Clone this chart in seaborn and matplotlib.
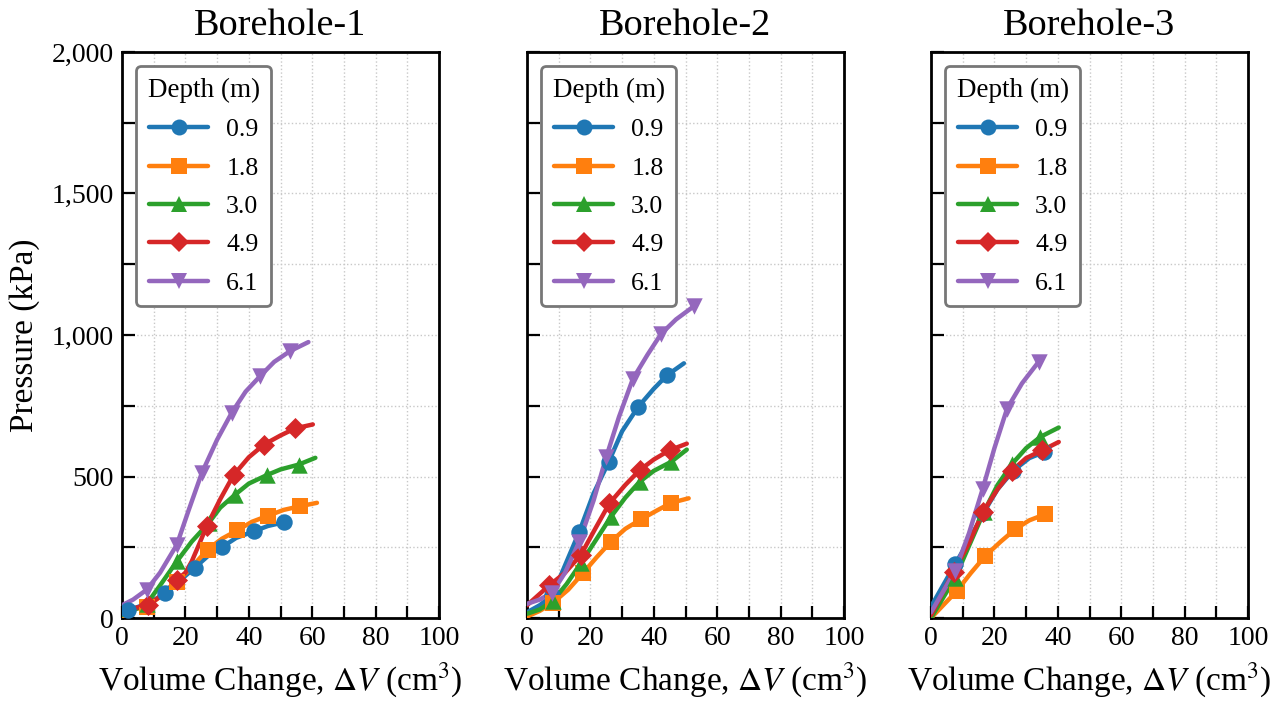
import numpy as np
import pandas as pd
import matplotlib
matplotlib.use("Agg")
import matplotlib.pyplot as plt
from matplotlib.lines import Line2D
from matplotlib.ticker import MultipleLocator, FuncFormatter
import seaborn as sns

# ---------------- data ----------------
boreholes = ["Borehole-1", "Borehole-2", "Borehole-3"]
depths = ["0.9", "1.8", "3.0", "4.9", "6.1"]
colors = ["#1f77b4", "#ff7f0e", "#2ca02c", "#d62728", "#9467bd"]
markers = ["o", "s", "^", "D", "v"]

# Borehole-1
bh1_x = {
    "0.9": [0, 2, 8, 13.6, 18, 23, 27, 31.5, 36, 41.5, 46, 51],
    "1.8": [0, 3.5, 7.8, 12, 17.3, 22, 27, 31.5, 36.4, 41, 46.2, 51, 56.2, 61.5],
    "3.0": [0, 4, 7.8, 12, 17.3, 22, 27.3, 31, 35.7, 40, 45.7, 50, 55.7, 61],
    "4.9": [0, 4, 8.3, 12.5, 17.5, 20, 22, 24.5, 26.7, 31, 35.2, 40, 44.8, 50, 54.6, 60.2],
    "6.1": [0, 3.5, 7.8, 12, 17.3, 21, 25.2, 30, 34.6, 39, 43.6, 48, 53, 58.8],
}
bh1_y = {
    "0.9": [0, 28, 50, 87, 130, 178, 218, 250, 283, 306, 325, 338],
    "1.8": [5, 30, 40, 75, 127, 180, 242, 280, 310, 340, 362, 382, 395, 407],
    "3.0": [10, 30, 50, 115, 200, 270, 335, 390, 436, 475, 505, 525, 542, 566],
    "4.9": [20, 35, 45, 80, 136, 160, 200, 265, 324, 420, 505, 568, 613, 645, 670, 684],
    "6.1": [45, 65, 100, 160, 259, 380, 513, 630, 725, 800, 855, 905, 943, 975],
}
bh1_mark = {
    "0.9": [1, 3, 5, 7, 9, 11],
    "1.8": [2, 4, 6, 8, 10, 12],
    "3.0": [2, 4, 6, 8, 10, 12],
    "4.9": [2, 4, 8, 10, 12, 14],
    "6.1": [2, 4, 6, 8, 10, 12],
}

# Borehole-2
bh2_x = {
    "0.9": [0, 4, 8, 12.3, 16.5, 21, 25.8, 30, 35, 40, 44.1, 49.5],
    "1.8": [0, 4, 8.1, 13, 17.6, 22, 26.5, 31, 36, 41, 45.5, 51],
    "3.0": [0, 4, 8.1, 12.5, 17, 22, 26.5, 31, 35.5, 40, 45.5, 50.4],
    "4.9": [0, 3.5, 7, 12, 17, 21.5, 26, 31, 35.5, 40, 45, 50.4],
    "6.1": [0, 4, 8, 12, 16.5, 21, 25, 29, 33.4, 38, 42.3, 47, 52.8],
}
bh2_y = {
    "0.9": [20, 45, 80, 194, 305, 440, 552, 660, 745, 810, 857, 900],
    "1.8": [5, 25, 53, 100, 158, 215, 270, 315, 349, 380, 407, 423],
    "3.0": [15, 30, 60, 120, 194, 280, 358, 425, 481, 520, 552, 595],
    "4.9": [45, 80, 115, 160, 223, 315, 405, 470, 522, 560, 593, 616],
    "6.1": [50, 65, 90, 160, 270, 415, 569, 710, 845, 930, 1004, 1055, 1103],
}
bh2_mark = {
    "0.9": [2, 4, 6, 8, 10],
    "1.8": [2, 4, 6, 8, 10],
    "3.0": [2, 4, 6, 8, 10],
    "4.9": [2, 4, 6, 8, 10],
    "6.1": [2, 4, 6, 8, 10, 12],
}

# Borehole-3
bh3_x = {
    "0.9": [0, 7.6, 12, 16.5, 21, 26, 31, 35.6],
    "1.8": [0, 8.1, 12.5, 17.1, 22, 26.6, 31, 36.1],
    "3.0": [0, 7.6, 12, 16.6, 21, 25.6, 30, 34.5, 40.3],
    "4.9": [0, 7.1, 12, 16.3, 21, 25.6, 30, 35, 40.3],
    "6.1": [0, 7.6, 12, 16.3, 20, 24, 28.7, 34],
}
bh3_y = {
    "0.9": [40, 190, 275, 370, 455, 521, 565, 586],
    "1.8": [0, 95, 158, 219, 270, 314, 345, 367],
    "3.0": [0, 142, 255, 373, 470, 545, 600, 640, 673],
    "4.9": [10, 163, 265, 373, 455, 521, 565, 592, 622],
    "6.1": [20, 166, 300, 456, 600, 740, 829, 906],
}
bh3_mark = {
    "0.9": [1, 3, 5, 7],
    "1.8": [1, 3, 5, 7],
    "3.0": [1, 3, 5, 7],
    "4.9": [1, 3, 5, 7],
    "6.1": [1, 3, 5, 7],
}

all_x = [bh1_x, bh2_x, bh3_x]
all_y = [bh1_y, bh2_y, bh3_y]
all_mark = [bh1_mark, bh2_mark, bh3_mark]

# ---------------- style ----------------
sns.set_theme(style="ticks")
plt.rcParams["font.family"] = ["Liberation Serif", "DejaVu Serif"]
plt.rcParams["mathtext.fontset"] = "stix"
for k in ["text.color", "axes.labelcolor", "xtick.color", "ytick.color",
          "axes.edgecolor"]:
    plt.rcParams[k] = "black"

W, H = 1288, 707
fig = plt.figure(figsize=(W / 100, H / 100), dpi=100)

lefts = [122, 527, 931]
ax_w = 317
ax_top, ax_bot = 52, 618

for i, (bh, dx, dy, dm) in enumerate(zip(boreholes, all_x, all_y, all_mark)):
    ax = fig.add_axes([lefts[i] / W, (H - ax_bot) / H, ax_w / W, (ax_bot - ax_top) / H])
    for d, c, m in zip(depths, colors, markers):
        df = pd.DataFrame({"x": dx[d], "y": dy[d]})
        sns.lineplot(data=df, x="x", y="y", ax=ax, color=c, lw=3.2, sort=False,
                     estimator=None, zorder=3)
        mk = df.iloc[dm[d]]
        sns.scatterplot(data=mk, x="x", y="y", ax=ax, color=c, marker=m,
                        s=140 if m != "D" else 115, linewidth=0, zorder=4)
    ax.set_xlim(0, 100)
    ax.set_ylim(0, 2000)
    ax.xaxis.set_major_locator(MultipleLocator(20))
    ax.xaxis.set_minor_locator(MultipleLocator(10))
    ax.yaxis.set_major_locator(MultipleLocator(500))
    ax.yaxis.set_minor_locator(MultipleLocator(250))
    ax.yaxis.set_major_formatter(FuncFormatter(lambda v, p: f"{int(v):,}"))
    ax.tick_params(which="both", direction="in", length=9, width=1.6,
                   color="black", top=False, right=False)
    ax.tick_params(which="major", labelsize=20, pad=6)
    ax.grid(which="both", linestyle=":", color="#c8c8c8", linewidth=1.0, zorder=0)
    for s in ax.spines.values():
        s.set_linewidth(2.0)
        s.set_color("black")
    ax.set_title(bh, fontsize=27.5, pad=12)
    ax.set_xlabel(r"Volume Change, $\Delta V$ (cm$^3$)", fontsize=24, labelpad=7)
    if i == 0:
        ax.set_ylabel("Pressure (kPa)", fontsize=24, labelpad=8)
    else:
        ax.set_ylabel("")
        ax.tick_params(labelleft=False)

    handles = [Line2D([0], [0], color=c, marker=m, lw=3.2,
                      markersize=11.5 if m != "D" else 10.5, markeredgewidth=0)
               for c, m in zip(colors, markers)]
    leg = ax.legend(handles, depths, title="Depth (m)", loc="upper left",
                    fontsize=18.5, title_fontsize=19.5, frameon=True, fancybox=True,
                    framealpha=1, edgecolor="#777777", borderaxespad=0.55,
                    handlelength=2.3, handletextpad=0.7, labelspacing=0.6,
                    borderpad=0.45)
    leg.get_frame().set_linewidth(2.0)
    leg.set_zorder(10)

fig.savefig("out.png", dpi=100)
